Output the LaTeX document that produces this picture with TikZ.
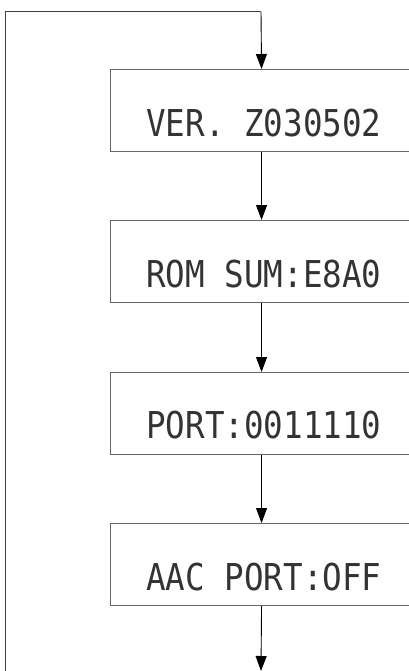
\documentclass[tikz,border=0pt]{standalone}
\usepackage{fontspec}
\newfontfamily\lcdfont[FakeStretch=0.88]{DejaVu Sans Mono}
\usetikzlibrary{arrows.meta}
\begin{document}
\begin{tikzpicture}[x=1pt,y=-1pt,
  box/.style={draw=black!60, line width=1.1pt, minimum width=302pt, minimum height=82pt, anchor=north west, inner sep=0pt},
  lcd/.style={anchor=base west, inner sep=0pt, font=\lcdfont\fontsize{37}{40}\selectfont, text=black!80},
  flow/.style={draw=black, line width=0.9pt, -{Triangle[length=15pt,width=11pt]}},
  loopline/.style={draw=black!75, line width=1pt}]
\useasboundingbox (0,0) rectangle (409,671);
\clip (0,0) rectangle (409,671);
\node[box] (b1) at (110,69) {};
\node[box] (b2) at (110,220) {};
\node[box] (b3) at (110,372) {};
\node[box] (b4) at (110,523) {};
\node[lcd] (t1) at (146,137) {VER. Z030502};
\node[lcd] (t2) at (146,287) {ROM SUM:E8A0};
\node[lcd] (t3) at (146,438) {PORT:0011110};
\node[lcd] (t4) at (146,590) {AAC PORT:OFF};
\coordinate (lb) at (5,675);
\coordinate (lt) at (5,12);
\coordinate (rt) at (261,12);
\coordinate (end) at (261,671);
\draw[loopline] (lb) -- (lt) -- (rt);
\draw[flow] (rt) -- (b1.north);
\draw[flow] (b1.south) -- (b2.north);
\draw[flow] (b2.south) -- (b3.north);
\draw[flow] (b3.south) -- (b4.north);
\draw[flow] (b4.south) -- (end);
\end{tikzpicture}
\end{document}
